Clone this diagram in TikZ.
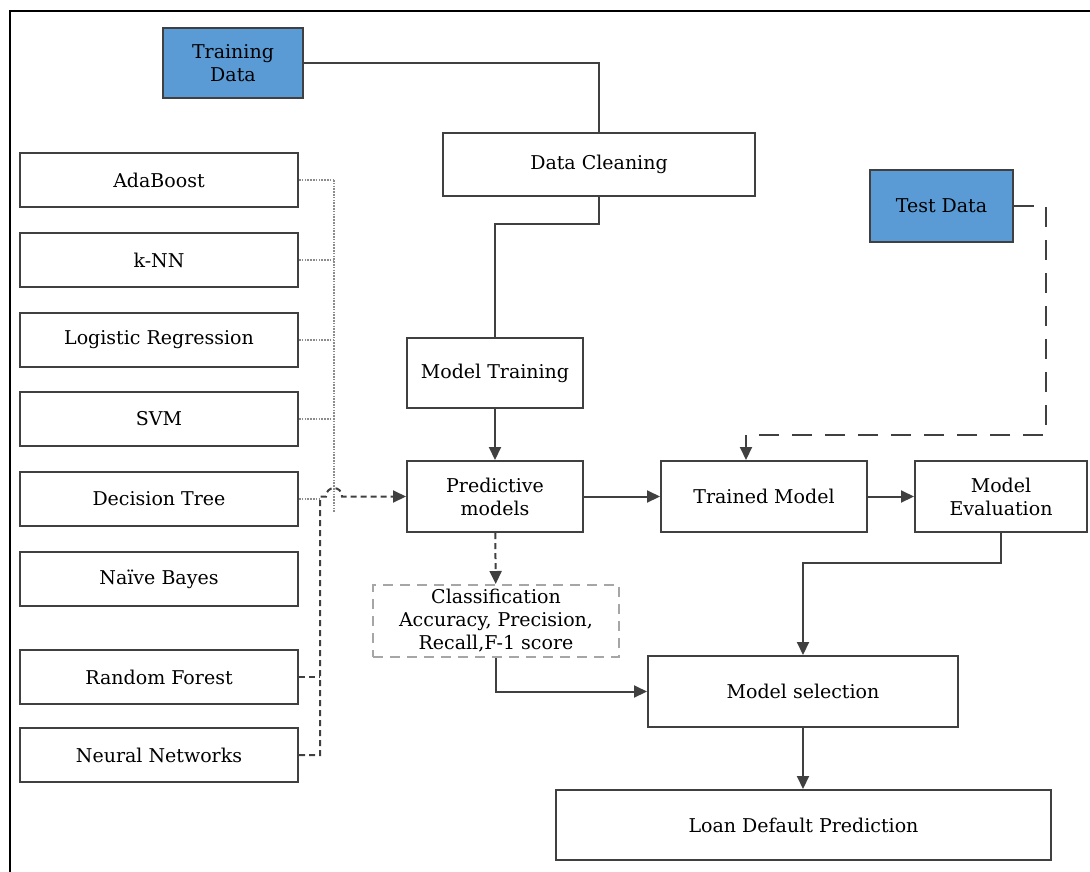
\documentclass[tikz,border=0pt]{standalone}
\usepackage{fontspec}
\setmainfont{DejaVu Serif}
\usetikzlibrary{arrows.meta,positioning}

\definecolor{boxblue}{HTML}{5B9BD5}
\definecolor{edgegray}{HTML}{404040}

\begin{document}
\begin{tikzpicture}[
    x=1pt, y=-1pt,
    font=\fontsize{19}{23}\selectfont,
    box/.style={draw=edgegray, line width=2pt, rectangle, align=center,
                inner sep=0pt, minimum width=278pt, minimum height=54pt},
    datebox/.style={box, fill=boxblue},
    metricbox/.style={box, draw=gray!70, dash pattern=on 10pt off 7pt},
    line/.style={draw=edgegray, line width=2pt},
    arrow/.style={line, -{Triangle[length=13pt,width=12pt]}},
    dashline/.style={line, dash pattern=on 6pt off 4pt},
    dotline/.style={draw=gray!90, line width=1.8pt, dash pattern=on 1.6pt off 1.2pt}
]
\useasboundingbox (0,0) rectangle (1090,871);
\draw[line width=2pt] (10,875) -- (10,11) -- (1095,11);

% algorithms
\node[box] (ada) at (159,180) {AdaBoost};
\node[box] (knn) at (159,260) {k-NN};
\node[box] (logreg) at (159,340) {Logistic Regression};
\node[box] (svm) at (159,419) {SVM};
\node[box] (dtree) at (159,499) {Decision Tree};
\node[box] (nbayes) at (159,579) {Naïve Bayes};
\node[box] (rforest) at (159,677) {Random Forest};
\node[box] (nnet) at (159,755) {Neural Networks};

% pipeline
\node[datebox, minimum width=140pt, minimum height=70pt] (train) at (233,63) {Training\\Data};
\node[box, minimum width=312pt, minimum height=63pt] (clean) at (599,164.5) {Data Cleaning};
\node[datebox, minimum width=143pt, minimum height=72pt] (test) at (941.5,206) {Test Data};
\node[box, minimum width=176pt, minimum height=70pt] (mtrain) at (495,373) {Model Training};
\node[box, minimum width=176pt, minimum height=71pt] (pred) at (495,496.5) {Predictive\\models};
\node[box, minimum width=206pt, minimum height=71pt] (trained) at (764,496.5) {Trained Model};
\node[box, minimum width=172pt, minimum height=71pt] (eval) at (1001,496.5) {Model\\Evaluation};
\node[metricbox, minimum width=246pt, minimum height=72pt] (cls) at (496,621)
    {Classification\\Accuracy, Precision,\\Recall,F-1 score};
\node[box, minimum width=310pt, minimum height=71pt] (select) at (803,691.5) {Model selection};
\node[box, minimum width=495pt, minimum height=70pt] (loan) at (803.5,825) {Loan Default Prediction};

\coordinate (bus) at (334,180);
\coordinate (dbus) at (320,496.5);
\coordinate (hopa) at (326,496.5);
\coordinate (hopb) at (342,496.5);

% dotted bus
\foreach \n in {ada,knn,logreg,svm}
    \draw[dotline] (\n.east) -- (\n.east -| bus);
\draw[dotline] (dtree.east) -- (dtree.east -| dbus);
\draw[dotline] (bus) -- (334,512);

% dashed feed into the models
\draw[dashline] (rforest.east) -- (rforest.east -| dbus);
\draw[dashline, -{Triangle[length=13pt,width=12pt]}] (nnet.east) -- (nnet.east -| dbus) -- (dbus)
    -- (hopa) to[out=90, in=90, looseness=1.8] (hopb) -- (pred.west);

\draw[line] (train.east) -| (clean.north);
\draw[line] (clean.south) -- ++(0,27) -| (mtrain.north);
\draw[arrow] (mtrain) -- (pred);
\draw[arrow] (pred) -- (trained);
\draw[arrow] (trained) -- (eval);
\draw[arrow, dash pattern=on 20pt off 13pt] (test.east) -- ++(32,0) -- ++(0,229)
    -| ([xshift=-18pt]trained.north);
\draw[dashline, -{Triangle[length=13pt,width=12pt]}] (pred) -- (cls);
\draw[arrow] (eval.south) -- ++(0,30) -| (select.north);
\draw[arrow] (cls.south) |- (select.west);
\draw[arrow] (select.south) -- (select.south |- loan.north);
\end{tikzpicture}
\end{document}
